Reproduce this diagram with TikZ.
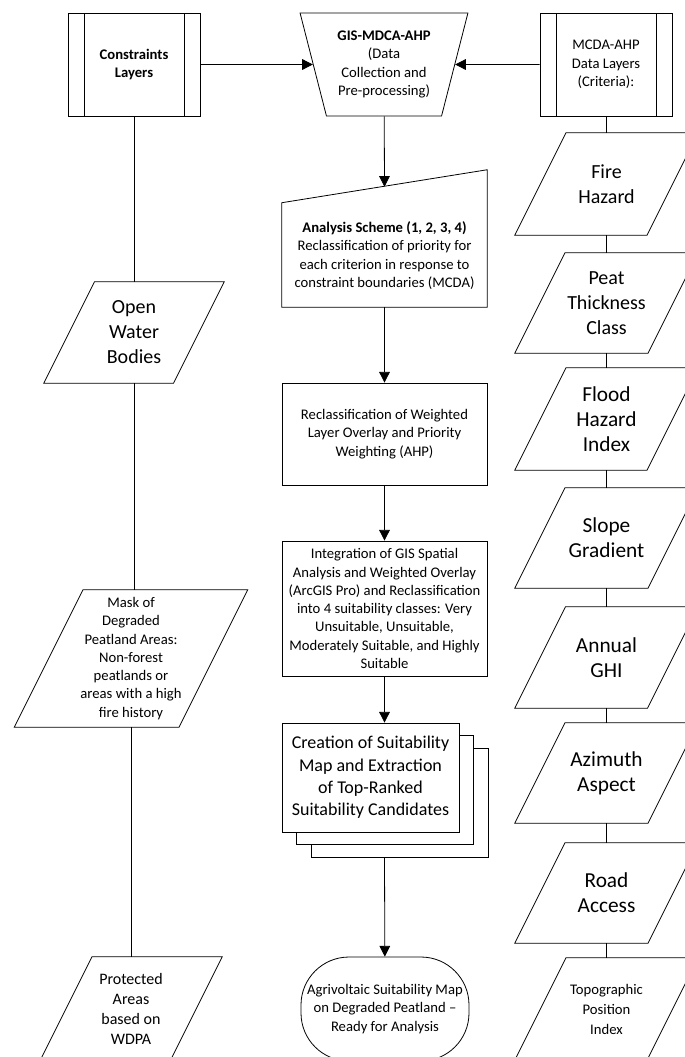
\documentclass[tikz,border=0pt]{standalone}
\usepackage{fontspec}
\setmainfont{Carlito}
\usetikzlibrary{shapes.geometric,arrows.meta,calc,shadows}
\newcommand\ParaOutline[1]{\draw[shp] ($(#1.north west)!0.5!90:(#1.south west)$) -- (#1.north east) -- ($(#1.south east)!0.5!90:(#1.north east)$) -- (#1.south west) -- cycle;}
\begin{document}
\begin{tikzpicture}[x=0.75pt,y=-0.75pt,
  shp/.style={draw=black, line width=0.6pt, line join=miter},
  conn/.style={draw=black, line width=0.6pt},
  arr/.style={conn, -{Triangle[width=8pt,length=8pt]}},
  txt/.style={inner sep=0pt, align=center},
  f11/.style={font=\fontsize{11pt}{13.7pt}\selectfont},
  f12/.style={font=\fontsize{12pt}{15pt}\selectfont},
  f11b/.style={font=\fontsize{11pt}{15pt}\selectfont},
  f14/.style={font=\fontsize{13.5pt}{16.8pt}\selectfont},
  f15/.style={font=\fontsize{15pt}{18.75pt}\selectfont},
  f16/.style={font=\fontsize{16pt}{18.75pt}\selectfont},
  dbar/.style={path picture={\draw[line width=0.6pt]
     ([xshift=12pt]path picture bounding box.north west) -- ([xshift=12pt]path picture bounding box.south west)
     ([xshift=-12pt]path picture bounding box.north east) -- ([xshift=-12pt]path picture bounding box.south east);}},
  topbox/.style={shp, txt, f11, dbar, minimum width=99pt, minimum height=77.25pt},
  cbox/.style={shp, txt, f11, minimum width=153.75pt},
  rpar/.style={txt, minimum width=137.25pt}
]
\useasboundingbox (0,0) rectangle (685,1057);
\fill[white] (0,0) rectangle (685,1057);
\clip (0,0) rectangle (685,1057);

% top row
\node[topbox] (cons) at (134,64.5) {\textbf{Constraints}\\\textbf{Layers}};
\node[shp, txt, f11, trapezium, trapezium left angle=72.5, trapezium right angle=72.5,
      shape border rotate=180, trapezium stretches=true,
      minimum width=126pt, minimum height=77.25pt, inner sep=1pt] (gis) at (384,64.5)
      {\textbf{GIS-MDCA-AHP}\\(Data\\Collection and\\Pre-processing)};
\node[topbox] (mcda) at (606,64.5) {MCDA-AHP\\Data Layers\\(Criteria):};

% centre column
\node[txt, f11, minimum width=153.75pt, minimum height=77.25pt] (ana) at (384.5,255.5)
  {\textbf{Analysis Scheme (1, 2, 3, 4)}\\Reclassification of priority for\\each criterion in response to\\constraint boundaries (MCDA)};
\draw[shp] (ana.south west) -- ($(ana.north west)+(0,-1)$) -- ($(ana.north east)+(0,-34)$) -- (ana.south east) -- cycle;
\node[cbox, minimum height=76.5pt] (rec) at (384.5,434)
  {Reclassification of Weighted\\Layer Overlay and Priority\\Weighting (AHP)};
\node[cbox, minimum height=101.25pt] (int) at (384.5,608.5)
  {Integration of GIS Spatial\\Analysis and Weighted Overlay\\(ArcGIS Pro) and Reclassification\\into 4 suitability classes: Very\\Unsuitable, Unsuitable,\\Moderately Suitable, and Highly\\Suitable};
\node[shp, txt, f14, fill=white, minimum width=132.75pt, minimum height=81.75pt,
      general shadow={shadow xshift=21.75pt, shadow yshift=-18.75pt, fill=white, draw=black, line width=0.6pt},
      general shadow={shadow xshift=10.9pt, shadow yshift=-9.4pt, fill=white, draw=black, line width=0.6pt}]
      (cre) at (370.5,777.5)
  {Creation of Suitability\\Map and Extraction\\of Top-Ranked\\Suitability Candidates};
\node[shp, txt, f11, rounded corners=36pt, minimum width=126pt, minimum height=78pt] (term) at (385,1009)
  {Agrivoltaic Suitability Map\\on Degraded Peatland --\\Ready for Analysis};

% left column
\node[txt, f15, minimum width=135pt, minimum height=75.75pt] (water) at (134,332.5) {Open\\Water\\Bodies};
\node[txt, f11, minimum width=174.75pt, minimum height=102.75pt] (mask) at (131,658.5)
  {Mask of\\Degraded\\Peatland Areas:\\Non-forest\\peatlands or\\areas with a high\\fire history};
\node[txt, f12, minimum width=136.5pt, minimum height=78pt] (prot) at (131,1009) {Protected\\Areas\\based on\\WDPA};
\ParaOutline{water}
\ParaOutline{mask}
\ParaOutline{prot}

% right column
\node[rpar, f15, minimum height=76.5pt] (fire) at (606.5,184) {Fire\\Hazard};
\node[rpar, f15, minimum height=75pt] (peat) at (606.5,303) {Peat\\Thickness\\Class};
\node[rpar, f16, minimum height=76.5pt] (flood) at (606.5,419) {Flood\\Hazard\\Index};
\node[rpar, f16, minimum height=75pt] (slope) at (606.5,538) {Slope\\Gradient};
\node[rpar, f16, minimum height=75.75pt] (ghi) at (606.5,657.5) {Annual\\GHI};
\node[rpar, f16, minimum height=75pt] (azi) at (606.5,773) {Azimuth\\Aspect};
\node[rpar, f16, minimum height=75pt] (road) at (606.5,893) {Road\\Access};
\node[rpar, f11b, minimum height=76.5pt] (topo) at (606.5,1009) {Topographic\\Position\\Index};
\foreach \n in {fire,peat,flood,slope,ghi,azi,road,topo}{\ParaOutline{\n}}

% connectors
\draw[arr] (cons) -- (gis);
\draw[arr] (mcda) -- (gis);
\draw[arr] (gis) -- ($(ana.north)+(0,-17)$);
\draw[arr] (ana) -- (rec);
\draw[arr] (rec) -- (int);
\draw[arr] (int.south) -- (int.south |- cre.north);
\draw[arr] ($(int.south |- cre.south)+(0,25)$) -- (term);

\draw[conn] (cons) -- (water);
\draw[conn] (water.south) -- (water.south |- mask.north);
\draw[conn] (mask.south) -- (mask.south |- prot.north);

\draw[conn] (mcda.south) -- (mcda.south |- fire.north);
\draw[conn] (fire) -- (peat);
\draw[conn] (peat) -- (flood);
\draw[conn] (flood) -- (slope);
\draw[conn] (slope) -- (ghi);
\draw[conn] (ghi) -- (azi);
\draw[conn] (azi) -- (road);
\draw[conn] (road) -- (topo);
\end{tikzpicture}
\end{document}
